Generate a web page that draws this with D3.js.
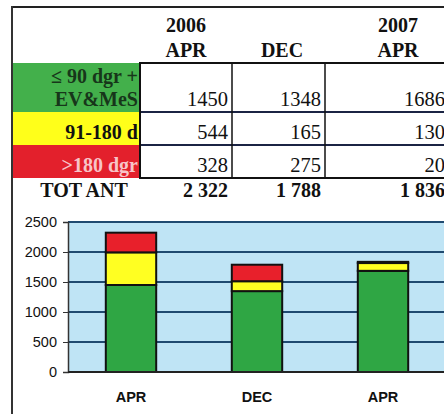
<!DOCTYPE html>
<html>
<head>
<meta charset="utf-8">
<script src="https://cdn.jsdelivr.net/npm/d3@7"></script>
<style>
  html, body { margin: 0; padding: 0; background: #fff; overflow: hidden; }
  svg { display: block; }
</style>
</head>
<body>
<svg id="chart" width="444" height="414"></svg>
<script>
// Antal per period, stacked by age class
const years = ['2006', '', '2007'];
const months = ['APR', 'DEC', 'APR'];
const rowLabels = [['\u2264 90 dgr +', 'EV&MeS'], ['91-180 d'], ['>180 dgr']];
const green = [1450, 1348, 1686];
const yellow = [544, 165, 130];
const red = [328, 275, 20];
const yTicks = [0, 500, 1000, 1500, 2000, 2500];

const series = [
  { key: 'green', values: green, fill: '#2fa644', cell: '#43b04b', text: '#17361a' },
  { key: 'yellow', values: yellow, fill: '#ffff22', cell: '#ffff1a', text: '#111' },
  { key: 'red', values: red, fill: '#e8202b', cell: '#e3202c', text: '#f7c4c8' },
];
const totals = green.map((g, i) => g + yellow[i] + red[i]);
const fmtTot = v => d3.format(',')(v).replace(/,/g, ' ');

const svg = d3.select('#chart');
const serif = "'Liberation Serif', 'Times New Roman', serif";
const sans = "'Liberation Sans', Arial, sans-serif";

// frame
svg.append('line').attr('x1', 12).attr('x2', 444).attr('y1', 7).attr('y2', 7)
  .attr('stroke', '#222').attr('stroke-width', 2);
svg.append('line').attr('x1', 12).attr('x2', 12).attr('y1', 6).attr('y2', 414)
  .attr('stroke', '#333').attr('stroke-width', 2);

// ---- table ----
const colEdges = [140, 232, 325, 449];
const rowEdges = [63, 112, 145, 178];
const headX = [186, 282, 398];

const head = svg.append('g').attr('font-family', serif).attr('font-weight', 'bold')
  .attr('font-size', 20).attr('text-anchor', 'middle').attr('fill', '#111');
years.forEach((y, i) => {
  head.append('text').attr('x', headX[i]).attr('y', 32).text(y);
  head.append('text').attr('x', headX[i]).attr('y', 57).text(months[i]);
});

// label cells
series.forEach((s, r) => {
  svg.append('rect').attr('x', 13).attr('y', rowEdges[r])
    .attr('width', colEdges[0] - 13).attr('height', rowEdges[r + 1] - rowEdges[r])
    .attr('fill', s.cell);
  const lines = rowLabels[r];
  const t = svg.append('text').attr('font-family', serif).attr('font-size', 20)
    .attr('text-anchor', 'end').attr('fill', s.text).attr('font-weight', 'bold');
  lines.forEach((ln, k) => {
    t.append('tspan').attr('x', colEdges[0] - 2)
      .attr('y', rowEdges[r + 1] - 6 - (lines.length - 1 - k) * 23).text(ln);
  });
});

// value cells
series.forEach((s, r) => {
  s.values.forEach((v, c) => {
    svg.append('text').attr('x', colEdges[c + 1] - 4).attr('y', rowEdges[r + 1] - 6)
      .attr('text-anchor', 'end').attr('font-family', serif).attr('font-size', 20.5)
      .attr('fill', '#111').text(v);
  });
});
// row separators
rowEdges.slice(1, -1).forEach(y => {
  svg.append('line').attr('x1', colEdges[0]).attr('x2', 449).attr('y1', y).attr('y2', y)
    .attr('stroke', '#1b2444').attr('stroke-width', 2);
});
colEdges.slice(1, -1).forEach(x => {
  svg.append('line').attr('x1', x).attr('x2', x).attr('y1', rowEdges[0]).attr('y2', rowEdges[3])
    .attr('stroke', '#111').attr('stroke-width', 1.5);
});
svg.append('rect').attr('x', colEdges[0]).attr('y', rowEdges[0])
  .attr('width', 449 - colEdges[0]).attr('height', rowEdges[3] - rowEdges[0])
  .attr('fill', 'none').attr('stroke', '#111').attr('stroke-width', 2);

// totals row
svg.append('text').attr('x', 84).attr('y', 197).attr('text-anchor', 'middle')
  .attr('font-family', serif).attr('font-weight', 'bold').attr('font-size', 20)
  .attr('fill', '#111').text('TOT ANT');
totals.forEach((t, c) => {
  svg.append('text').attr('x', colEdges[c + 1] - 4).attr('text-anchor', 'end').attr('y', 197)
    .attr('font-family', serif).attr('font-weight', 'bold').attr('font-size', 20)
    .attr('fill', '#111').text(fmtTot(t));
});

// ---- bar chart ----
const x = d3.scaleBand().domain(d3.range(months.length)).range([68, 446])
  .paddingInner(0.6).paddingOuter(0.3);
const y = d3.scaleLinear().domain([0, 2500]).range([372, 222]);

svg.append('rect').attr('x', 68).attr('y', y(2500)).attr('width', 444 - 68)
  .attr('height', y(0) - y(2500)).attr('fill', '#bfe4f5');

// grid
svg.append('g').selectAll('line').data(yTicks.filter(d => d > 0)).join('line')
  .attr('x1', 68).attr('x2', 444).attr('y1', d => y(d)).attr('y2', d => y(d))
  .attr('stroke', '#1f4a70').attr('stroke-width', 2);

const yAxis = svg.append('g').attr('transform', 'translate(68,0)')
  .call(d3.axisLeft(y).tickValues(yTicks).tickFormat(d3.format('d')).tickSize(5).tickPadding(6));
yAxis.select('.domain').attr('stroke', '#333').attr('stroke-width', 1.5);
yAxis.selectAll('.tick line').attr('stroke', '#333');
yAxis.selectAll('text').attr('font-family', sans).attr('font-size', 14.5).attr('fill', '#111');

const stack = d3.stack().keys(['green', 'yellow', 'red'])(
  months.map((m, i) => ({ i, green: green[i], yellow: yellow[i], red: red[i] })));
svg.append('g').selectAll('g').data(stack).join('g')
  .attr('fill', (d, k) => series[k].fill)
  .selectAll('rect').data(d => d).join('rect')
  .attr('x', d => x(d.data.i)).attr('width', x.bandwidth())
  .attr('y', d => y(d[1])).attr('height', d => y(d[0]) - y(d[1]))
  .attr('stroke', '#111').attr('stroke-width', 2);

svg.append('line').attr('x1', 68).attr('x2', 444).attr('y1', y(0)).attr('y2', y(0))
  .attr('stroke', '#222').attr('stroke-width', 2);

svg.append('g').selectAll('text').data(months).join('text')
  .attr('x', (d, i) => x(i) + x.bandwidth() / 2).attr('y', 402)
  .attr('text-anchor', 'middle').attr('font-family', sans).attr('font-weight', 'bold')
  .attr('font-size', 14.5).attr('fill', '#111').text(d => d);
</script>
</body>
</html>
